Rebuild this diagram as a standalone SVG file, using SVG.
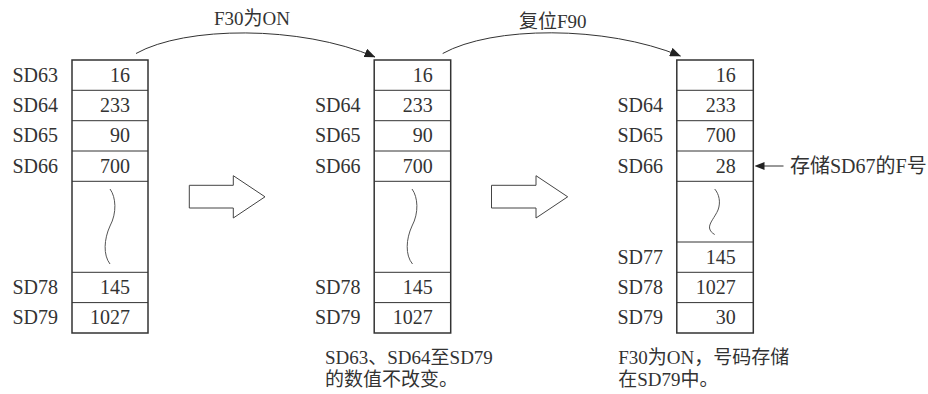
<svg xmlns="http://www.w3.org/2000/svg" width="928" height="394" viewBox="0 0 928 394">
<defs>
<style>
text{font-family:'Liberation Serif','Times New Roman','Noto Sans CJK SC',serif;font-size:20px;fill:#333}
.v{text-anchor:end}
.sm{font-size:19px}
.box{fill:#fff;stroke:#333;stroke-width:1.5}
.row{stroke:#333;stroke-width:1;fill:none}
.sq{stroke:#555;stroke-width:1;fill:none}
.blk{fill:#fff;stroke:#444;stroke-width:1}
.con{stroke:#333;stroke-width:1;fill:none}
</style>
<marker id="ah" viewBox="0 0 11 9" refX="10.5" refY="4.5" markerWidth="11" markerHeight="9" markerUnits="userSpaceOnUse" orient="auto">
<path d="M0,0 L11,4.5 L0,9 z" fill="#222"/>
</marker>
<marker id="ahs" viewBox="0 0 10 8" refX="0.5" refY="4" markerWidth="10" markerHeight="8" markerUnits="userSpaceOnUse" orient="auto-start-reverse">
<path d="M0,0 L10,4 L0,8 z" fill="#222"/>
</marker>
</defs>
<rect width="928" height="394" fill="#fff"/>

<g font-family="Liberation Serif, Noto Sans CJK SC, serif">
<g id="connectors">
<path class="con" d="M136,53.5 C185,26 300,25 375,57" marker-end="url(#ah)"/>
<text x="214" y="25" class="sm">F30为ON</text>
<path class="con" d="M442.7,53.5 C492,26 605,25 680.5,56" marker-end="url(#ah)"/>
<text x="519" y="28" class="sm">复位F90</text>
<polygon class="blk" points="189.3,185.3 233.3,185.3 233.3,175.7 265,196.8 233.3,218 233.3,208 189.3,208"/>
<polygon class="blk" points="491.5,185.3 536,185.3 536,175.7 567.7,196.8 536,218 536,208 491.5,208"/>
<line class="con" x1="764" y1="166" x2="783.5" y2="166" marker-start="url(#ahs)"/>
<text x="790" y="172.6">存储SD67的F号</text>
</g>

<g id="box1">
<rect class="box" x="72" y="60" width="76" height="273"/>
<path class="row" d="M72,90.3H148M72,120.7H148M72,151H148M72,181.3H148M72,272.3H148M72,302.6H148"/>
<path class="sq" d="M110,189 C116,197 117,213 110,226 C104,239 103,255 110,264"/>
<text x="12.5" y="81.6">SD63</text>
<text x="12.5" y="111.9">SD64</text>
<text x="12.5" y="142.3">SD65</text>
<text x="12.5" y="172.6">SD66</text>
<text x="12.5" y="293.9">SD78</text>
<text x="12.5" y="324.2">SD79</text>
<text class="v" x="130" y="81.6">16</text>
<text class="v" x="130" y="111.9">233</text>
<text class="v" x="130" y="142.3">90</text>
<text class="v" x="130" y="172.6">700</text>
<text class="v" x="130" y="293.9">145</text>
<text class="v" x="130" y="324.2">1027</text>
</g>

<g id="box2">
<rect class="box" x="374.2" y="60" width="76.5" height="273"/>
<path class="row" d="M374.2,90.3H450.7M374.2,120.7H450.7M374.2,151H450.7M374.2,181.3H450.7M374.2,272.3H450.7M374.2,302.6H450.7"/>
<path class="sq" d="M412,189 C418,197 419,213 412,226 C406,239 405,255 412.5,264"/>
<text x="315" y="111.9">SD64</text>
<text x="315" y="142.3">SD65</text>
<text x="315" y="172.6">SD66</text>
<text x="315" y="293.9">SD78</text>
<text x="315" y="324.2">SD79</text>
<text class="v" x="432.7" y="81.6">16</text>
<text class="v" x="432.7" y="111.9">233</text>
<text class="v" x="432.7" y="142.3">90</text>
<text class="v" x="432.7" y="172.6">700</text>
<text class="v" x="432.7" y="293.9">145</text>
<text class="v" x="432.7" y="324.2">1027</text>
<text class="sm" x="325" y="363.5">SD63、SD64至SD79</text>
<text class="sm" x="325" y="385.5">的数值不改变。</text>
</g>

<g id="box3">
<rect class="box" x="676.8" y="60" width="76.5" height="273"/>
<path class="row" d="M676.8,90.3H753.3M676.8,120.7H753.3M676.8,151H753.3M676.8,181.3H753.3M676.8,242H753.3M676.8,272.3H753.3M676.8,302.6H753.3"/>
<path class="sq" d="M714.7,189 C719,194 721,202 718,210 C715,217 709,223 709.5,228 C710,231 712,233 714.7,234.5"/>
<text x="617.5" y="111.9">SD64</text>
<text x="617.5" y="142.3">SD65</text>
<text x="617.5" y="172.6">SD66</text>
<text x="617.5" y="263.6">SD77</text>
<text x="617.5" y="293.9">SD78</text>
<text x="617.5" y="324.2">SD79</text>
<text class="v" x="735.7" y="81.6">16</text>
<text class="v" x="735.7" y="111.9">233</text>
<text class="v" x="735.7" y="142.3">700</text>
<text class="v" x="735.7" y="172.6">28</text>
<text class="v" x="735.7" y="263.6">145</text>
<text class="v" x="735.7" y="293.9">1027</text>
<text class="v" x="735.7" y="324.2">30</text>
<text class="sm" x="618.3" y="363.5">F30为ON，号码存储</text>
<text class="sm" x="618.3" y="385.5">在SD79中。</text>
</g>
</g>
</svg>
